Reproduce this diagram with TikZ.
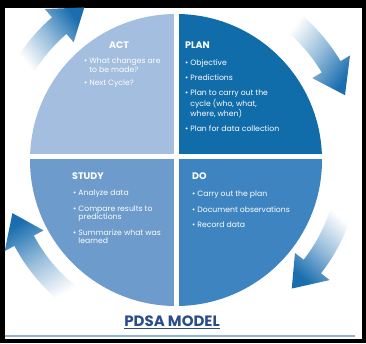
\documentclass[tikz,border=0pt]{standalone}
\usepackage{fontspec}
\setmainfont{Poppins}
\usetikzlibrary{positioning}

\definecolor{actblue}{HTML}{A3BEDE}
\definecolor{planblue}{HTML}{116CAA}
\definecolor{studyblue}{HTML}{6C9BCC}
\definecolor{doblue}{HTML}{3E84C1}
\definecolor{arrowblue}{HTML}{1A6EAF}
\definecolor{titleblue}{HTML}{2B4C8C}
\definecolor{rulecol}{HTML}{8DB3D6}

\newcommand\ind{\hphantom{• }}
% curved arrow round the circle: tail angle, base angle, tip angle, radius, shading angle
\newcommand\pdsaarrow[5]{%
\shade[top color=arrowblue, bottom color=white, middle color=arrowblue!45, shading angle=#5]
  (#1:{#4+11}) arc[start angle=#1, end angle=#2, radius={#4+11}]
  -- (#2:{#4+22}) -- (#3:#4) -- (#2:{#4-22}) -- (#2:{#4-11})
  arc[start angle=#2, end angle=#1, radius={#4-11}] -- cycle;}

\tikzset{
  head/.style={font=\bfseries\fontsize{9.5}{11}\selectfont, text=white, inner sep=0pt},
  items/.style={font=\fontsize{7.7}{8.4}\selectfont, text=white, align=left,
    inner sep=0pt, anchor=north west},
}

\begin{document}
\begin{tikzpicture}[x=1pt,y=1pt]
\fill[black] (0,0) rectangle (366,343);
\fill[white] (5,4) rectangle (362,335);
\useasboundingbox (0,0) rectangle (366,343);

\coordinate (C) at (176,183);
\coordinate (S) at (176,187);
% the four quarters
\begin{scope}
\clip (C) circle[radius=146];
\fill[actblue] (S) rectangle ++(-150,150);
\fill[planblue] (S) rectangle ++(150,150);
\fill[doblue] (S) rectangle ++(150,-150);
\fill[studyblue] (S) rectangle ++(-150,-150);
\draw[white, line width=5] ([xshift=-150]S) -- ([xshift=150]S);
\draw[white, line width=5] ([yshift=-150]S) -- ([yshift=150]S);
\end{scope}

% arrows
\begin{scope}[shift={(C)}]
\pdsaarrow{148}{131}{121}{178}{-52}
\pdsaarrow{50}{31}{21}{181}{-126}
\pdsaarrow{-17}{-38}{-48}{173}{138}
\pdsaarrow{-128}{-152}{-162}{172}{31}
\end{scope}

% texts
\node[head] (act) at (119,298) {ACT};
\node[items] (actitems) at (84,285) {• What changes are\\ \ind to be made?\\[5pt] • Next Cycle?};

\node[head, anchor=west] (plan) at (185,298) {PLAN};
\node[items] (planitems) at (185,284) {• Objective\\[7pt] • Predictions\\[7pt] • Plan to carry out the\\ \ind cycle (who, what,\\ \ind where, when)\\[7pt] • Plan for data collection};

\node[head, anchor=west] (study) at (72,167) {STUDY};
\node[items] (studyitems) at (73,153) {• Analyze data\\[7pt] • Compare results to\\ \ind predictions\\[7pt] • Summarize what was\\ \ind learned};

\node[head, anchor=west] (do) at (192,167) {DO};
\node[items] (doitems) at (192,152) {• Carry out the plan\\[7pt] • Document observations\\[7pt] • Record data};

\node[font=\bfseries\fontsize{15}{17}\selectfont, text=titleblue] (title) at (172,21) {\underline{PDSA MODEL}};
\draw[rulecol, line width=2] (5,7) -- (355,7);
\end{tikzpicture}
\end{document}
